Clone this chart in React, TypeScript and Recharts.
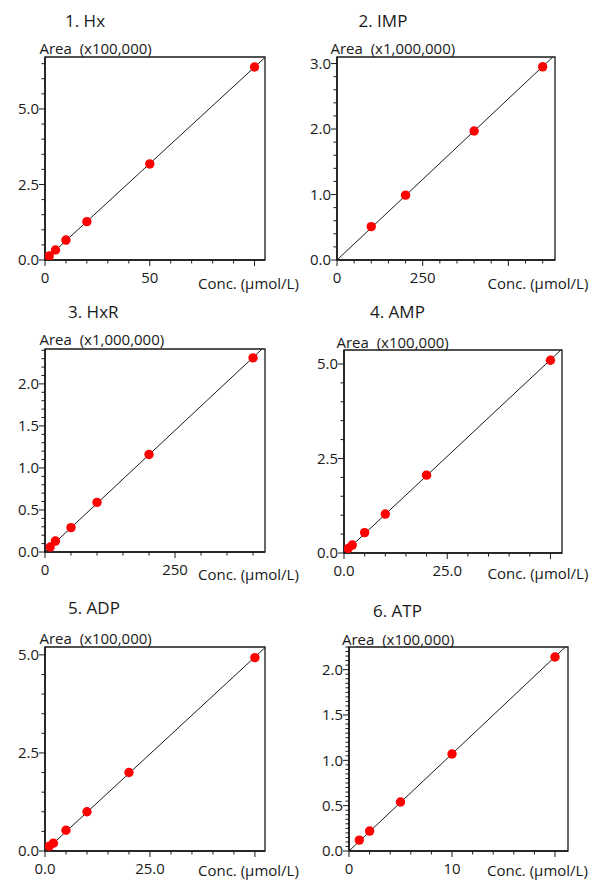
import React from "react";
import {
  ScatterChart,
  Scatter,
  XAxis,
  YAxis,
  ReferenceLine,
  ReferenceArea,
} from "recharts";

const FONT = "'Open Sans', sans-serif";
const INK = "#1a1a1a";

// concentrations (µmol/L) and peak areas (in the unit shown on each y label)
const hxConc = [2, 5, 10, 20, 50, 100];
const hxArea = [0.13, 0.33, 0.66, 1.27, 3.18, 6.39];

const impConc = [100, 200, 400, 600];
const impArea = [0.51, 0.99, 1.97, 2.95];

const hxrConc = [10, 20, 50, 100, 200, 400];
const hxrArea = [0.06, 0.13, 0.29, 0.59, 1.16, 2.31];

const ampConc = [1, 2, 5, 10, 20, 50];
const ampArea = [0.12, 0.21, 0.54, 1.03, 2.06, 5.1];

const adpConc = [1, 2, 5, 10, 20, 50];
const adpArea = [0.12, 0.2, 0.53, 1.0, 2.0, 4.93];

const atpConc = [1, 2, 5, 10, 20];
const atpArea = [0.12, 0.22, 0.54, 1.07, 2.14];

const titles = ["1. Hx", "2. IMP", "3. HxR", "4. AMP", "5. ADP", "6. ATP"];
const areaUnits = [
  "x100,000",
  "x1,000,000",
  "x1,000,000",
  "x100,000",
  "x100,000",
  "x100,000",
];

// axis tick values
const xLabelTicks = [[0, 50], [0, 250], [0, 250], [0, 25], [0, 25], [0, 10]];
const xLongTicks = [[0, 50, 100], [0, 250, 500], [0, 250], [0, 25, 50], [0, 25, 50], [0, 10, 20]];
const xMinorStep = [10, 50, 50, 5, 5, 2];
const xDecimals = [0, 0, 0, 1, 1, 0];
const yLabelTicks = [
  [0, 2.5, 5],
  [0, 1, 2, 3],
  [0, 0.5, 1, 1.5, 2],
  [0, 2.5, 5],
  [0, 2.5, 5],
  [0, 0.5, 1, 1.5, 2],
];
const yMinorStep = [0.5, 0.2, 0.1, 0.5, 0.5, 0.05];
const xMax = [105, 636, 423, 52.8, 52.4, 21.26];
const yMax = [6.72, 3.1, 2.415, 5.37, 5.2, 2.25];

const series = [
  [hxConc, hxArea],
  [impConc, impArea],
  [hxrConc, hxrArea],
  [ampConc, ampArea],
  [adpConc, adpArea],
  [atpConc, atpArea],
];

// plot boxes on the page: left, top, right, bottom
const boxes = [
  [45, 57, 265, 260],
  [337, 57, 555, 260],
  [45, 349, 265, 552],
  [344, 350, 562, 553],
  [45, 647, 265, 851],
  [349, 647, 568, 851],
];

// label anchors: [titleX, titleY, areaX, areaY, concX, concY]
const labelPos = [
  [65, 21, 39.5, 49, 198, 284],
  [358.5, 21, 330.5, 49, 487.5, 283.5],
  [68, 311.5, 39.5, 339.5, 198, 575],
  [370, 311.5, 336.5, 342.5, 487.5, 573.5],
  [68, 607.5, 39.5, 639, 198, 871],
  [373, 610.5, 342, 639.5, 487, 871],
];

const stepTicks = (max: number, step: number) => {
  const n = Math.floor(max / step + 1e-6);
  return Array.from({ length: n + 1 }, (_, i) => +(i * step).toFixed(6));
};

const has = (arr: number[], v: number) => arr.some((a) => Math.abs(a - v) < 1e-6);

const YL = 45;
const MT = 10;
const MR = 10;
const XH = 30;

function Panel({ i }: { i: number }) {
  const [conc, area] = series[i];
  const data = conc.map((c, k) => ({ x: c, y: area[k] }));
  const slope =
    conc.reduce((s, c, k) => s + c * area[k], 0) /
    conc.reduce((s, c) => s + c * c, 0);
  const [l, t, r, b] = boxes[i];
  const w = r - l + YL + MR;
  const h = b - t + MT + XH;
  const xt = stepTicks(xMax[i], xMinorStep[i]);
  const yt = stepTicks(yMax[i], yMinorStep[i]);

  const xTick = (p: any) => {
    const v = p.payload.value;
    const long = has(xLongTicks[i], v);
    return (
      <g>
        <line x1={p.x} x2={p.x} y1={p.y} y2={p.y + (long ? 6 : 3.5)} stroke={INK} />
        {has(xLabelTicks[i], v) && (
          <text
            x={p.x}
            y={p.y + 10}
            dy="0.85em"
            textAnchor="middle"
            fontSize={15}
            fontFamily={FONT}
            fill={INK}
          >
            {v.toFixed(xDecimals[i])}
          </text>
        )}
      </g>
    );
  };

  const yTick = (p: any) => {
    const v = p.payload.value;
    const long = has(yLabelTicks[i], v);
    return (
      <g>
        <line x1={p.x} x2={p.x - (long ? 6 : 3.5)} y1={p.y} y2={p.y} stroke={INK} />
        {long && (
          <text
            x={p.x - 6}
            y={p.y}
            dy="0.36em"
            textAnchor="end"
            fontSize={15}
            fontFamily={FONT}
            fill={INK}
          >
            {v.toFixed(1)}
          </text>
        )}
      </g>
    );
  };

  return (
    <div style={{ position: "absolute", left: l - YL, top: t - MT }}>
      <ScatterChart
        width={w}
        height={h}
        margin={{ top: MT, right: MR, left: 0, bottom: 0 }}
      >
        <XAxis
          type="number"
          dataKey="x"
          domain={[0, xMax[i]]}
          allowDataOverflow
          ticks={xt}
          interval={0}
          tickSize={0}
          tickMargin={0}
          tickLine={false}
          tick={xTick}
          height={XH}
          axisLine={{ stroke: INK, strokeWidth: 1.6 }}
        />
        <YAxis
          type="number"
          dataKey="y"
          domain={[0, yMax[i]]}
          allowDataOverflow
          ticks={yt}
          interval={0}
          tickSize={0}
          tickMargin={0}
          tickLine={false}
          tick={yTick}
          width={YL}
          axisLine={{ stroke: INK, strokeWidth: 1.6 }}
        />
        <ReferenceArea
          x1={0}
          x2={xMax[i]}
          y1={0}
          y2={yMax[i]}
          fill="none"
          stroke={INK}
          strokeWidth={1.3}
          ifOverflow="visible"
        />
        <ReferenceLine
          segment={[
            { x: 0, y: 0 },
            { x: xMax[i], y: slope * xMax[i] },
          ]}
          stroke={INK}
          strokeWidth={1}
          ifOverflow="hidden"
        />
        <Scatter
          data={data}
          isAnimationActive={false}
          shape={(p: any) => <circle cx={p.cx} cy={p.cy} r={4.7} fill="#ff0000" />}
        />
      </ScatterChart>
    </div>
  );
}

export default function App() {
  return (
    <div
      style={{
        position: "absolute",
        left: 0,
        top: 0,
        width: 596,
        height: 880,
        background: "#fff",
      }}
    >
      {titles.map((_, i) => (
        <Panel key={i} i={i} />
      ))}
      <svg
        width={596}
        height={880}
        style={{ position: "absolute", left: 0, top: 0, pointerEvents: "none" }}
      >
        {titles.map((title, i) => {
          const [tx, ty, ax, ay, cx, cy] = labelPos[i];
          return (
            <g key={i} fontFamily={FONT} fill={INK}>
              <text x={tx} y={ty} dy="0.36em" fontSize={17}>
                {title}
              </text>
              <text x={ax} y={ay} dy="0.36em" fontSize={15} style={{ whiteSpace: "pre" }}>
                {`Area  (${areaUnits[i]})`}
              </text>
              <text x={cx} y={cy} dy="0.36em" fontSize={15}>
                Conc. (µmol/L)
              </text>
            </g>
          );
        })}
      </svg>
    </div>
  );
}
